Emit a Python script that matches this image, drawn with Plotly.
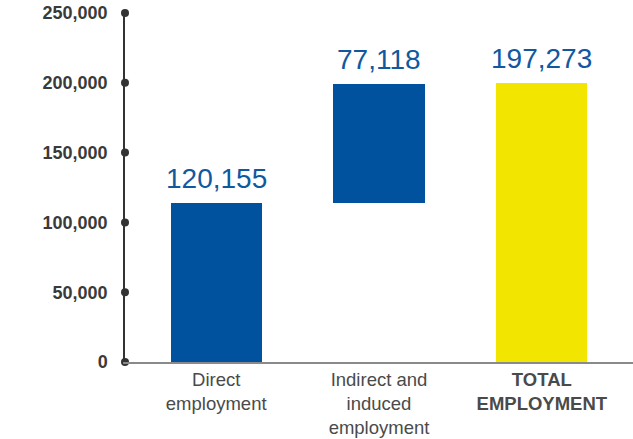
import plotly.graph_objects as go

categories = ["Direct<br>employment", "Indirect and<br>induced<br>employment",
              "<b>TOTAL<br>EMPLOYMENT</b>"]
bar_bases = [0, 114000, 0]
bar_heights = [114000, 85000, 200000]
label_values = [120155, 77118, 197273]
bar_colors = ["#00529F", "#00529F", "#F2E500"]
y_ticks = [0, 50000, 100000, 150000, 200000, 250000]

FONT = "Liberation Sans, Arial, Helvetica, sans-serif"
x_pos = list(range(len(categories)))
x_range = [-0.56, len(categories) - 1 + 0.56]

fig = go.Figure()
fig.add_trace(go.Bar(
    x=x_pos, y=bar_heights, base=bar_bases,
    marker=dict(color=bar_colors, line=dict(width=0)),
    width=0.56, hoverinfo="skip", showlegend=False,
))
fig.add_trace(go.Scatter(
    x=[x_range[0]] * len(y_ticks), y=y_ticks, mode="markers",
    marker=dict(size=8, color="#333333"), cliponaxis=False,
    hoverinfo="skip", showlegend=False,
))

for xi, b, h, v in zip(x_pos, bar_bases, bar_heights, label_values):
    fig.add_annotation(
        x=xi, y=b + h, text=f"{v:,}", showarrow=False,
        yanchor="bottom", yshift=7,
        font=dict(family=FONT, size=28, color="#11599F"),
    )

fig.update_layout(
    width=633, height=439,
    margin=dict(l=125, r=0, t=13, b=77, autoexpand=False),
    plot_bgcolor="white", paper_bgcolor="white",
    bargap=0,
    xaxis=dict(
        range=x_range, tickmode="array", tickvals=x_pos, ticktext=categories,
        showgrid=False, zeroline=False, showline=True,
        linecolor="#8a8a8a", linewidth=1.5, ticks="",
        ticklabelstandoff=0, automargin=False,
        tickfont=dict(family=FONT, size=18.5, color="#4a4a4a"),
        fixedrange=True,
    ),
    yaxis=dict(
        range=[0, 250000], tickmode="array", tickvals=y_ticks,
        ticktext=[f"{t:,}" for t in y_ticks],
        showgrid=False, zeroline=False, showline=True,
        linecolor="#333333", linewidth=1.5, ticks="",
        ticklabelstandoff=12, automargin=False,
        tickfont=dict(family=FONT, size=18, color="#3a3a3a", weight="bold"),
        fixedrange=True,
    ),
)

fig.write_html("out.html")
